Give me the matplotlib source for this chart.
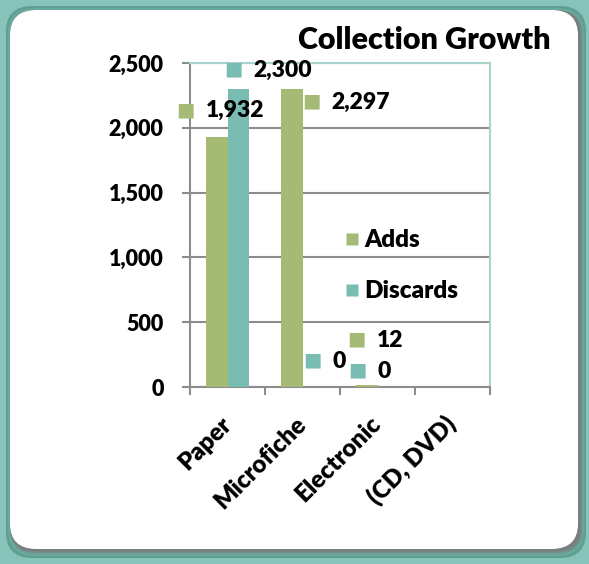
import numpy as np
import matplotlib
matplotlib.use("Agg")
import matplotlib.pyplot as plt
from matplotlib.patches import FancyBboxPatch
from matplotlib.lines import Line2D

plt.rcParams['font.family'] = ['Lato', 'DejaVu Sans']
plt.rcParams['font.weight'] = 'heavy'

# data
categories = ["Paper", "Microfiche", "Electronic", "(CD, DVD)"]
adds = [1932, 2297, 12, np.nan]
discards = [2300, 0, 0, np.nan]
series_names = ["Adds", "Discards"]
yticks = [0, 500, 1000, 1500, 2000, 2500]

# label offsets (pixels) of the legend-key square from bar top centre
adds_off = [(-31, 27), (20, -12), (-10, 46)]
disc_off = [(-5, 20), (-1, 27), (-31, 17)]

green = "#a5ba74"
teal = "#79bdb2"
bg_teal = "#88c3b9"
grid_grey = "#8c8c8c"
FW = "heavy"

fig = plt.figure(figsize=(5.89, 5.64), dpi=100, facecolor=bg_teal)

# rounded white frame with soft shadow
W, H = 589, 564
def fbox(x0, y0, x1, y1, **kw):
    return FancyBboxPatch((x0 / W, 1 - y1 / H), (x1 - x0) / W, (y1 - y0) / H,
                          boxstyle="round,pad=0,rounding_size=0.045",
                          transform=fig.transFigure, zorder=-5, **kw)

fig.patches.append(fbox(6, 6, 586, 558, facecolor="#5e9f94", edgecolor="none"))
fig.patches.append(fbox(8, 8, 584, 556, facecolor="#6aa79c", edgecolor="none"))
for i, a in enumerate([0.25, 0.35, 0.45, 0.6]):
    fig.patches.append(fbox(10, 10, 583 - i, 554 - i, facecolor="#7a7a7a",
                            edgecolor="none", alpha=a))
fig.patches.append(fbox(10, 10, 578, 549, facecolor="white", edgecolor="none"))

ax = fig.add_axes([190 / W, 1 - 387 / H, 300 / W, 324 / H])
ax.set_zorder(2)
ax.set_facecolor("white")

x = np.arange(len(categories))
w = 0.29
b1 = ax.bar(x - w / 2, adds, w, color=green, label=series_names[0], zorder=3)
b2 = ax.bar(x + w / 2, discards, w, color=teal, label=series_names[1], zorder=3)

ax.set_xlim(-0.5, len(categories) - 0.5)
ax.set_ylim(0, 2500)
ax.set_yticks(yticks)
ax.set_yticklabels([f"{v:,}" for v in yticks], fontsize=15.5, fontweight=FW)
ax.yaxis.grid(True, color=grid_grey, linewidth=1.5, zorder=0)
ax.set_axisbelow(True)

ax.set_xticks(x)
ax.set_xticklabels(categories, rotation=45, ha="right", va="center",
                   rotation_mode="anchor", fontsize=17.5, fontweight=FW)
ax.set_xticks(np.arange(len(categories) + 1) - 0.5, minor=True)
ax.tick_params(axis="x", which="major", length=0, pad=24)
ax.tick_params(axis="x", which="minor", length=6, width=1.5, color=grid_grey)
ax.tick_params(axis="y", length=6, width=1.5, color=grid_grey, pad=13)

for s in ["left", "bottom"]:
    ax.spines[s].set_color(grid_grey)
    ax.spines[s].set_linewidth(1.5)
for s in ["top", "right"]:
    ax.spines[s].set_color("#a6d3cb")
    ax.spines[s].set_linewidth(1.5)

def label(bars, vals, offs, color):
    for bar, v, (dx, dy) in zip(bars, vals, offs):
        xc = bar.get_x() + bar.get_width() / 2
        ax.annotate("\u25A0", (xc, v), xytext=(dx, dy), textcoords="offset pixels",
                    ha="center", va="center", fontsize=14, color=color,
                    family="DejaVu Sans", annotation_clip=False, zorder=5)
        ax.annotate(f"{int(v):,}", (xc, v), xytext=(dx + 20, dy - 1),
                    textcoords="offset pixels", ha="left", va="center",
                    fontsize=16.5, fontweight=FW, annotation_clip=False, zorder=5)

label(b1, adds[:3], adds_off, green)
label(b2, discards[:3], disc_off, teal)

handles = [Line2D([], [], marker="s", linestyle="none", markersize=9,
                  markerfacecolor=c, markeredgecolor="none") for c in (green, teal)]
ax.legend(handles, series_names, loc="upper left", bbox_to_anchor=(0.48, 0.525),
          frameon=False, prop={"weight": FW, "size": 17.5},
          handlelength=0.5, handletextpad=0.25, labelspacing=1.2, borderpad=0)

fig.text(551 / W, 1 - 40 / H, "Collection Growth", ha="right", va="center",
         fontsize=22, fontweight=FW)

fig.savefig("out.png", dpi=100, facecolor=bg_teal)
